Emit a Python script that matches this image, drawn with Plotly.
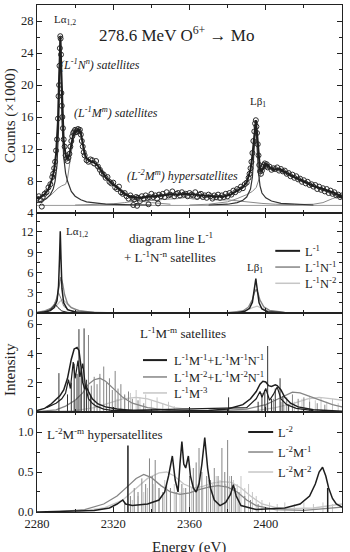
import plotly.graph_objects as go

# ---------------- Panel 1: measured spectrum ----------------
DATA_E = [2280, 2281, 2282, 2282.5, 2283, 2284, 2285, 2286, 2287, 2288, 2288.5, 2289, 2289.5, 2290, 2290.5,
          2291, 2291.3, 2291.6, 2291.8, 2292.0, 2292.2, 2292.4, 2292.6, 2292.8, 2293.0, 2293.3, 2293.6,
          2294, 2294.5, 2295, 2295.5, 2296, 2296.5, 2297, 2297.5, 2298, 2298.5, 2299, 2299.5, 2300, 2300.5,
          2301, 2301.5, 2302, 2302.5, 2303, 2303.5, 2304, 2304.5, 2305, 2306, 2307, 2308, 2309, 2310, 2311,
          2312, 2313, 2314, 2315, 2316, 2317, 2318, 2319, 2320, 2321, 2322, 2323, 2324, 2325, 2326, 2327,
          2328, 2329, 2330, 2330.5, 2331, 2332, 2332.5, 2333, 2334, 2335, 2336, 2337, 2338, 2338.5, 2339, 2340,
          2341, 2342, 2343, 2343.5, 2344, 2345, 2346, 2347, 2348, 2349, 2350, 2351, 2352, 2353, 2354, 2355,
          2356, 2357, 2358, 2359, 2360, 2361, 2362, 2363, 2364, 2365, 2366, 2367, 2368, 2369, 2370, 2371,
          2372, 2373, 2374, 2375, 2376, 2377, 2378, 2379, 2380, 2381, 2382, 2383, 2384, 2385, 2386, 2387,
          2388, 2389, 2390, 2391, 2391.5, 2392, 2392.5, 2393, 2393.5, 2394, 2394.4, 2394.8, 2395.1, 2395.4,
          2395.8, 2396.2, 2396.6, 2397, 2397.5, 2398, 2398.5, 2399, 2399.5, 2400, 2400.5, 2401, 2402, 2403,
          2404, 2405, 2406, 2407, 2408, 2409, 2410, 2411, 2412, 2413, 2414, 2415, 2416, 2417, 2418, 2419,
          2420, 2421, 2422, 2423, 2424, 2425, 2426, 2427, 2428, 2429, 2430, 2431, 2432, 2433, 2434, 2435,
          2436, 2437, 2438, 2439, 2440]
DATA_C = [5.8, 6.1, 5.6, 4.8, 6.0, 6.4, 6.6, 7.2, 7.6, 8.5, 8.9, 9.6, 10.4, 11.8, 13.2,
          15.8, 18.6, 20.0, 22.4, 24.6, 26.1, 25.8, 23.8, 19.0, 17.4, 16.0, 14.6,
          13.2, 12.3, 11.2, 10.8, 10.5, 10.9, 11.4, 12.3, 13.0, 13.6, 14.0, 14.2, 14.4, 14.1,
          14.3, 14.5, 14.2, 14.4, 13.8, 13.0, 12.3, 11.6, 11.2, 10.6, 10.4, 10.7, 10.6, 10.2, 10.5,
          9.8, 9.4, 9.0, 8.8, 8.4, 8.5, 7.9, 7.7, 7.8, 7.2, 7.0, 7.3, 6.6, 6.4, 6.5, 6.1,
          5.8, 6.2, 5.9, 5.0, 5.7, 6.0, 4.9, 5.9, 5.5, 6.1, 5.8, 6.2, 5.9, 5.1, 6.0, 6.4,
          6.0, 6.2, 5.8, 5.2, 6.3, 6.1, 6.4, 6.0, 6.6, 6.2, 6.3, 6.7, 6.1, 6.4, 6.5, 6.2,
          6.6, 6.3, 6.4, 6.1, 6.5, 6.3, 6.2, 6.6, 6.0, 6.3, 6.4, 6.0, 6.2, 5.9, 6.3, 6.1,
          5.8, 6.2, 6.0, 6.3, 5.9, 6.2, 6.0, 6.4, 6.1, 6.5, 6.3, 6.8, 6.6, 7.0, 6.9, 7.3,
          7.1, 7.6, 7.8, 8.4, 8.9, 9.6, 10.4, 11.5, 13.0, 14.2, 15.2, 15.6, 14.8, 14.0,
          12.6, 11.2, 10.0, 9.2, 8.9, 9.3, 9.8, 10.0, 10.2, 9.9, 10.1, 9.7, 9.8, 9.4,
          9.6, 9.5, 9.7, 9.3, 9.5, 9.2, 9.3, 8.9, 9.0, 8.6, 8.8, 8.4, 8.6, 8.2, 8.3, 7.9,
          8.1, 7.7, 7.9, 7.5, 7.6, 7.3, 7.5, 7.0, 7.3, 6.9, 7.1, 6.7, 7.0, 6.5, 6.8, 6.4,
          6.6, 6.2, 6.3, 6.0, 6.2]

FIT_E = [2280, 2282, 2284, 2286, 2288, 2289, 2290, 2291, 2291.6, 2292.3, 2292.8, 2293.3, 2294, 2295, 2296,
         2297, 2298, 2299, 2300, 2301, 2302, 2303, 2304, 2305, 2306, 2307, 2308, 2310, 2312, 2314, 2316,
         2318, 2320, 2322, 2324, 2326, 2328, 2330, 2334, 2338, 2342, 2346, 2350, 2354, 2358, 2362, 2366,
         2370, 2374, 2378, 2382, 2385, 2388, 2390, 2392, 2393, 2394, 2394.8, 2395.5, 2396.2, 2397, 2398,
         2399, 2400, 2401, 2402, 2404, 2406, 2408, 2410, 2412, 2414, 2416, 2418, 2420, 2422, 2424, 2426,
         2428, 2430, 2432, 2434, 2436, 2438, 2440]
FIT_C = [5.8, 6.0, 6.35, 7.0, 8.3, 9.4, 11.4, 15.5, 21.0, 26.1, 21.5, 16.5, 13.0, 11.3, 10.7,
         11.3, 12.7, 13.8, 14.2, 14.3, 14.4, 14.0, 12.6, 11.4, 10.8, 10.6, 10.5, 10.3, 9.9, 9.2, 8.5,
         8.0, 7.6, 7.1, 6.7, 6.4, 6.15, 6.0, 5.9, 6.0, 6.1, 6.2, 6.3, 6.3, 6.4, 6.3, 6.2,
         6.15, 6.05, 6.05, 6.35, 6.8, 7.25, 7.8, 9.4, 11.2, 14.0, 15.6, 13.8, 11.2, 9.4, 9.3,
         9.8, 10.1, 10.0, 9.7, 9.45, 9.5, 9.4, 9.1, 8.85, 8.6, 8.4, 8.15, 7.9, 7.7, 7.5, 7.3,
         7.1, 7.0, 6.85, 6.7, 6.5, 6.25, 6.05]

LA_E = [2280, 2283, 2285, 2287, 2288.5, 2289.5, 2290.5, 2291.3, 2291.8, 2292.2, 2292.6, 2293.1, 2294, 2295,
        2296, 2297, 2298, 2300, 2303, 2306, 2310, 2316, 2325, 2340]
LA_C = [5.3, 5.5, 5.8, 6.3, 7.0, 8.0, 10.0, 14.5, 21.0, 26.0, 22.0, 15.5, 11.0, 9.0,
        8.0, 7.2, 6.7, 6.1, 5.65, 5.4, 5.25, 5.12, 5.05, 5.0]
LB_E = [2370, 2380, 2385, 2388, 2390, 2392, 2393, 2394, 2394.8, 2395.5, 2396.2, 2397, 2398, 2400, 2403,
        2408, 2415, 2425]
LB_C = [5.0, 5.1, 5.3, 5.6, 6.0, 7.0, 8.5, 12.0, 15.5, 12.0, 9.0, 7.4, 6.5, 5.9, 5.5, 5.2, 5.1, 5.0]

SATA_E = [2280, 2284, 2288, 2291, 2293, 2295, 2296, 2297, 2298, 2299, 2300, 2301, 2302, 2303, 2304, 2305,
          2306, 2308, 2310, 2312, 2314, 2316, 2318, 2320, 2322, 2324, 2326, 2328, 2330, 2334, 2340, 2350]
SATA_C = [5.3, 5.7, 6.4, 7.1, 7.4, 7.6, 8.3, 10.0, 12.0, 13.2, 13.7, 13.9, 14.0, 13.8, 12.3, 11.0,
          10.4, 10.1, 9.9, 9.6, 9.0, 8.4, 7.9, 7.5, 7.0, 6.6, 6.3, 6.0, 5.8, 5.5, 5.3, 5.1]
SATB_E = [2360, 2370, 2380, 2385, 2390, 2393, 2395, 2396, 2397, 2398, 2399, 2400, 2402, 2404, 2406, 2408,
          2410, 2415, 2420, 2425, 2430, 2435, 2440]
SATB_C = [5.0, 5.1, 5.4, 5.8, 6.3, 6.7, 7.2, 7.8, 8.6, 9.3, 9.8, 9.9, 9.5, 9.2, 9.3, 9.2,
          8.9, 8.4, 7.9, 7.4, 6.9, 6.3, 5.8]
HYP_E = [2300, 2310, 2320, 2326, 2330, 2334, 2338, 2342, 2346, 2350, 2354, 2358, 2362, 2366, 2369, 2372,
         2376, 2380, 2384, 2388, 2392, 2398, 2405, 2415, 2425, 2430, 2435, 2440]
HYP_C = [5.0, 5.05, 5.15, 5.3, 5.45, 5.5, 5.6, 5.55, 5.7, 5.75, 5.8, 5.95, 5.75, 5.85, 6.0, 5.7,
         5.6, 5.65, 5.55, 5.4, 5.3, 5.2, 5.1, 5.05, 5.1, 5.3, 5.8, 6.2]
BG_E = [2280, 2440]
BG_C = [4.95, 4.95]

# ---------------- Panel 2: diagram line + L-1N-n ----------------
L1_E = [2280, 2284, 2287, 2289, 2290.5, 2291.3, 2291.8, 2292.2, 2292.6, 2293.1, 2294, 2296, 2300, 2310, 2330,
        2370, 2385, 2389, 2391.5, 2393, 2394, 2394.5, 2394.8, 2395.1, 2395.6, 2396.5, 2398, 2401, 2410, 2440]
L1_I = [0.05, 0.15, 0.35, 0.8, 1.8, 4.0, 8.0, 12.1, 8.0, 3.6, 1.5, 0.5, 0.15, 0.04, 0.0,
        0.0, 0.05, 0.25, 0.7, 1.6, 3.2, 4.4, 5.1, 4.4, 3.0, 1.5, 0.6, 0.2, 0.05, 0.0]
L1B_E = [2282, 2286, 2288, 2289.5, 2291, 2293, 2296, 2300]
L1B_I = [0.05, 0.3, 0.8, 1.3, 0.8, 0.3, 0.1, 0.02]
N1_E = [2280, 2284, 2287, 2289, 2290.5, 2291.5, 2292.5, 2293.5, 2294.5, 2296, 2298, 2302, 2310, 2330,
        2380, 2388, 2391, 2393, 2394, 2395, 2396, 2397, 2399, 2402, 2410, 2440]
N1_I = [0.1, 0.3, 0.65, 1.2, 2.3, 3.9, 5.3, 4.3, 2.7, 1.4, 0.8, 0.35, 0.1, 0.02,
        0.05, 0.3, 0.9, 2.0, 3.0, 3.5, 2.9, 1.9, 0.9, 0.4, 0.1, 0.02]
N1B_E = [2284, 2288, 2290, 2291.3, 2292.5, 2294, 2297, 2302]
N1B_I = [0.2, 0.8, 1.8, 3.0, 2.2, 1.0, 0.4, 0.1]
N2_E = [2280, 2285, 2288, 2290, 2292, 2293.5, 2295, 2297, 2300, 2305, 2320, 2385, 2390, 2393, 2395.5,
        2398, 2401, 2408, 2440]
N2_I = [0.1, 0.3, 0.6, 1.0, 1.7, 2.0, 1.6, 1.0, 0.5, 0.2, 0.03, 0.1, 0.4, 0.8, 1.0,
        0.7, 0.35, 0.1, 0.0]

# ---------------- Panel 3: L-1M-m satellites ----------------
M1_E = [2280, 2284, 2287, 2290, 2292, 2294, 2296, 2298, 2299.5, 2301, 2302, 2303, 2304, 2305, 2306, 2307,
        2309, 2312, 2316, 2322, 2330, 2345, 2360, 2370, 2380, 2388, 2392, 2395, 2397, 2398.5, 2400,
        2401.5, 2403, 2405, 2406, 2408, 2410, 2413, 2417, 2425, 2440]
M1_I = [0.1, 0.25, 0.5, 0.85, 1.1, 1.5, 2.3, 3.6, 4.3, 4.4, 4.2, 3.2, 2.0, 1.6, 1.7, 1.4,
        0.9, 0.55, 0.35, 0.2, 0.1, 0.05, 0.05, 0.1, 0.2, 0.5, 0.9, 1.4, 1.9, 2.1, 2.05,
        1.8, 1.75, 1.85, 1.8, 1.5, 1.0, 0.6, 0.35, 0.15, 0.05]
M1D_E = [2285, 2290, 2293, 2295, 2296.5, 2297.5, 2299, 2300, 2301.5, 2302.5, 2304, 2305.5, 2307, 2309,
         2311, 2315, 2320, 2390, 2395, 2397, 2398, 2400, 2402, 2404, 2406, 2408, 2411, 2416, 2425]
M1D_I = [0.3, 0.6, 0.9, 1.3, 2.2, 1.6, 3.4, 2.3, 3.5, 2.4, 3.3, 1.7, 0.9, 0.6,
         0.4, 0.2, 0.1, 0.3, 0.9, 1.4, 1.0, 1.6, 0.8, 1.2, 1.7, 0.9, 0.5, 0.25, 0.1]
M2_E = [2280, 2290, 2295, 2300, 2304, 2307, 2310, 2313, 2316, 2320, 2325, 2330, 2338, 2350, 2370, 2390,
        2400, 2405, 2410, 2414, 2418, 2422, 2428, 2435, 2440]
M2_I = [0.03, 0.15, 0.4, 0.8, 1.3, 1.9, 2.2, 2.3, 2.1, 1.6, 1.0, 0.6, 0.3, 0.1, 0.05, 0.2,
        0.5, 0.8, 1.1, 1.35, 1.3, 1.1, 0.8, 0.5, 0.35]
M3_E = [2280, 2300, 2310, 2318, 2325, 2332, 2338, 2345, 2352, 2365, 2395, 2405, 2415, 2422, 2428, 2435, 2440]
M3_I = [0.0, 0.1, 0.3, 0.6, 0.9, 1.0, 0.9, 0.6, 0.3, 0.1, 0.1, 0.3, 0.6, 0.9, 1.0, 0.9, 0.8]
S31_E = [2291.5, 2296, 2298, 2299.5, 2301, 2302, 2303.2, 2304.7, 2306, 2308, 2380.5, 2396, 2398, 2399.5,
         2401, 2403, 2405, 2407.5, 2409, 2412]
S31_H = [2.65, 1.2, 2.0, 3.3, 2.6, 5.65, 3.0, 5.7, 2.2, 1.1, 1.0, 0.7, 1.3, 1.5,
         4.5, 0.9, 1.6, 2.3, 1.1, 0.5]
S32_E = [2300, 2303, 2305, 2307, 2308.5, 2310, 2311.5, 2313, 2315, 2316.5, 2318, 2319.5, 2321, 2322.5,
         2324, 2326, 2328, 2330, 2333, 2336, 2400, 2404, 2408, 2411, 2414, 2417, 2420, 2423, 2427, 2431]
S32_H = [0.8, 1.2, 1.5, 5.25, 1.8, 2.4, 1.9, 2.6, 3.1, 2.0, 2.3, 1.5, 2.8, 1.6,
         1.9, 1.2, 1.4, 0.9, 0.8, 0.6, 0.5, 0.9, 0.7, 1.0, 1.2, 0.9, 1.0, 0.7, 0.6, 0.5]
S33_E = [2318, 2322, 2326, 2329, 2332, 2334, 2337, 2340, 2343, 2346, 2349, 2352, 2405, 2410, 2415, 2419,
         2423, 2426, 2429, 2432, 2435, 2438]
S33_H = [0.7, 0.9, 1.1, 1.3, 1.5, 1.0, 1.2, 0.8, 1.0, 0.6, 0.7, 0.4, 0.3, 0.5, 0.7, 0.9,
         1.1, 0.8, 1.0, 0.7, 0.9, 0.6]

# ---------------- Panel 4: L-2M-m hypersatellites ----------------
K0_E = [2280, 2310, 2318, 2322, 2325, 2326.5, 2330, 2338, 2344, 2347, 2349, 2351, 2352.5, 2354, 2355, 2356,
        2357, 2358, 2359.4, 2360.5, 2362, 2363.5, 2365, 2366.5, 2368, 2369.5, 2371, 2373, 2376, 2379,
        2381.5, 2383, 2384.5, 2387, 2395, 2410, 2418, 2423, 2426, 2428, 2429.8, 2431.5, 2433, 2435, 2437, 2440]
K0_I = [0.0, 0.02, 0.05, 0.1, 0.15, 0.1, 0.08, 0.1, 0.15, 0.25, 0.45, 0.7, 0.4, 0.25, 0.6, 0.88,
        0.6, 0.55, 0.7, 0.45, 0.3, 0.25, 0.35, 0.6, 0.93, 0.55, 0.3, 0.15, 0.08, 0.12,
        0.22, 0.34, 0.2, 0.08, 0.03, 0.05, 0.1, 0.2, 0.35, 0.5, 0.56, 0.45, 0.3, 0.17, 0.1, 0.06]
K1_E = [2290, 2305, 2315, 2322, 2328, 2332, 2336, 2340, 2345, 2350, 2355, 2360, 2365, 2370, 2375, 2380,
        2385, 2390, 2395, 2405, 2420, 2440]
K1_I = [0.0, 0.03, 0.1, 0.2, 0.33, 0.42, 0.47, 0.43, 0.33, 0.25, 0.22, 0.24, 0.28, 0.31, 0.33, 0.31,
        0.25, 0.15, 0.08, 0.03, 0.02, 0.06]
K2_E = [2300, 2315, 2325, 2332, 2338, 2344, 2348, 2352, 2357, 2362, 2367, 2372, 2377, 2382, 2387, 2392,
        2398, 2408, 2425, 2440]
K2_I = [0.0, 0.05, 0.15, 0.3, 0.42, 0.49, 0.5, 0.45, 0.35, 0.3, 0.32, 0.36, 0.38, 0.37, 0.3, 0.2,
        0.1, 0.04, 0.05, 0.1]
S40_E = [2327.7, 2432.5]
S40_H = [0.83, 0.3]
S41_E = [2326, 2329, 2331, 2333, 2335, 2337, 2339, 2340.5, 2342, 2344, 2346, 2348, 2350, 2353, 2356,
         2358, 2360, 2362, 2363.5, 2365, 2366.5, 2369, 2371, 2373, 2375, 2377, 2378.5, 2380, 2382,
         2384, 2386, 2389, 2392, 2396]
S41_H = [0.12, 0.2, 0.3, 0.25, 0.42, 0.35, 0.67, 0.45, 0.65, 0.3, 0.25, 0.35, 0.3, 0.25, 0.35,
         0.3, 0.45, 0.55, 0.62, 0.8, 0.5, 0.45, 0.4, 0.55, 0.45, 0.8, 0.5, 0.9, 0.45,
         0.3, 0.25, 0.2, 0.15, 0.1]
S42_E = [2330, 2333, 2336, 2338, 2341, 2344, 2347, 2350, 2352, 2355, 2357, 2361, 2364, 2367, 2370, 2372,
         2374, 2376, 2379, 2381, 2383, 2385, 2387, 2389, 2391, 2393, 2395, 2398, 2402, 2406, 2410, 2415,
         2420, 2425, 2430, 2435]
S42_H = [0.15, 0.2, 0.25, 0.3, 0.35, 0.3, 0.4, 0.3, 0.35, 0.25, 0.3, 0.3, 0.35, 0.3, 0.4, 0.35,
         0.45, 0.4, 0.35, 0.45, 0.4, 0.35, 0.45, 0.3, 0.35, 0.25, 0.2, 0.15, 0.12, 0.1, 0.12, 0.1,
         0.12, 0.1, 0.12, 0.1]

BLACK = "#1e1e1e"
GRAY = "#858585"
LIGHT = "#c6c6c6"
FONT = "Liberation Serif"


def sticks(es, hs):
    xs, ys = [], []
    for e, h in zip(es, hs):
        xs += [e, e, None]
        ys += [0, h, None]
    return xs, ys


fig = go.Figure()


def line(x, y, ax, color, width):
    fig.add_trace(go.Scatter(x=x, y=y, mode="lines", xaxis=ax[0], yaxis=ax[1],
                             line=dict(color=color, width=width), showlegend=False,
                             hoverinfo="skip"))


def stk(es, hs, ax, color, width=1):
    xs, ys = sticks(es, hs)
    line(xs, ys, ax, color, width)


A1, A2, A3, A4 = ("x", "y"), ("x2", "y2"), ("x3", "y3"), ("x4", "y4")

# panel 1
line(BG_E, BG_C, A1, "#9a9a9a", 1)
line(HYP_E, HYP_C, A1, "#8a8a8a", 1)
line(SATA_E, SATA_C, A1, "#8a8a8a", 1)
line(SATB_E, SATB_C, A1, "#8a8a8a", 1)
line(LA_E, LA_C, A1, "#333333", 1.2)
line(LB_E, LB_C, A1, "#333333", 1.2)
fig.add_trace(go.Scatter(x=DATA_E, y=DATA_C, mode="markers", xaxis="x", yaxis="y",
                         marker=dict(symbol="circle-open", size=5, color="#2a2a2a",
                                     line=dict(width=1)),
                         showlegend=False, hoverinfo="skip"))
line(FIT_E, FIT_C, A1, BLACK, 2)

# panel 2
line(N2_E, N2_I, A2, LIGHT, 1.3)
line(N1B_E, N1B_I, A2, GRAY, 1)
line(N1_E, N1_I, A2, GRAY, 1.3)
line(L1B_E, L1B_I, A2, BLACK, 1)
line(L1_E, L1_I, A2, BLACK, 1.5)

# panel 3
stk(S33_E, S33_H, A3, LIGHT)
line(M3_E, M3_I, A3, LIGHT, 1.3)
stk(S32_E, S32_H, A3, GRAY)
line(M2_E, M2_I, A3, GRAY, 1.3)
stk(S31_E, S31_H, A3, "#333333")
line(M1D_E, M1D_I, A3, BLACK, 1.2)
line(M1_E, M1_I, A3, BLACK, 1.5)

# panel 4
stk(S42_E, S42_H, A4, LIGHT)
line(K2_E, K2_I, A4, LIGHT, 1.3)
stk(S41_E, S41_H, A4, GRAY)
line(K1_E, K1_I, A4, GRAY, 1.3)
stk(S40_E, S40_H, A4, BLACK, 1.5)
line(K0_E, K0_I, A4, BLACK, 1.5)

# ---------- axes ----------
doms = {1: [0.5897, 1.0], 2: [0.3925, 0.5897], 3: [0.1972, 0.3925], 4: [0.0, 0.1972]}
yr = {1: [4, 30], 2: [0, 14.8], 3: [0, 6.75], 4: [0, 1.25]}
ydt = {1: 4, 2: 3, 3: 2, 4: 0.5}
y0 = {1: 4, 2: 0, 3: 0, 4: 0}
tickfont = dict(family=FONT, size=12.5, color="#222")
axcommon = dict(showline=True, linecolor="#222", linewidth=1, mirror="ticks", ticks="inside",
                ticklen=5, tickcolor="#222", showgrid=False, zeroline=False, tickfont=tickfont)
lay = {}
for i in range(1, 5):
    xs = "xaxis" if i == 1 else f"xaxis{i}"
    ys = "yaxis" if i == 1 else f"yaxis{i}"
    yid = "y" if i == 1 else f"y{i}"
    lay[xs] = dict(axcommon, anchor=yid, domain=[0, 1], range=[2280, 2440], dtick=40, tick0=2280,
                   showticklabels=(i == 4), minor=dict(dtick=20, ticklen=3, ticks="inside",
                                                        tickcolor="#222"))
    if i > 1:
        lay[xs]["matches"] = "x"
    lay[ys] = dict(axcommon, anchor="x" if i == 1 else f"x{i}", domain=doms[i], range=yr[i],
                   dtick=ydt[i], tick0=y0[i],
                   minor=dict(dtick=ydt[i] / 2, ticklen=3, ticks="inside", tickcolor="#222"))
lay["yaxis4"]["tickformat"] = ".1f"

fig.update_layout(**lay)

anns = []


def ann(text, x, y, ax, size=12, xanchor="left", italic=False, **kw):
    if italic:
        text = f"<i>{text}</i>"
    anns.append(dict(text=text, x=x, y=y, xref=ax[0], yref=ax[1], xanchor=xanchor, yanchor="middle",
                     showarrow=False, font=dict(family=FONT, size=size, color="#222"), **kw))


# panel 1 texts
ann("Lα<sub>1,2</sub>", 2287.9, 28.1, A1, size=11)
ann("278.6 MeV O<sup>6+</sup> → Mo", 2353, 26.4, A1, size=17, xanchor="center")
ann("(L<sup>-1</sup>N<sup>n</sup>) satellites", 2291, 22.6, A1, size=12, italic=True)
ann("(L<sup>-1</sup>M<sup>m</sup>) satellites", 2298.4, 16.6, A1, size=12, italic=True)
ann("(L<sup>-2</sup>M<sup>m</sup>) hypersatellites", 2326.2, 8.75, A1, size=12, italic=True)
ann("Lβ<sub>1</sub>", 2390.8, 17.9, A1, size=11)
# panel 2 texts
ann("Lα<sub>1,2</sub>", 2294.2, 12.0, A2, size=11)
ann("diagram line L<sup>-1</sup>", 2350.3, 11.1, A2, size=13, xanchor="center")
ann("+ L<sup>-1</sup>N<sup>-n</sup> satellites", 2349.8, 8.3, A2, size=13, xanchor="center")
ann("Lβ<sub>1</sub>", 2389.2, 6.7, A2, size=11)
# panel 3 texts
ann("L<sup>-1</sup>M<sup>-m</sup> satellites", 2356.6, 5.39, A3, size=13, xanchor="center")
# panel 4 texts
ann("L<sup>-2</sup>M<sup>-m</sup> hypersatellites", 2284.2, 0.975, A4, size=13)

# legends (drawn as sample lines + labels)
LEG2 = [("L<sup>-1</sup>", BLACK, 2, 9.2), ("L<sup>-1</sup>N<sup>-1</sup>", GRAY, 1.5, 6.8),
        ("L<sup>-1</sup>N<sup>-2</sup>", LIGHT, 1.5, 4.4)]
LEG3 = [("L<sup>-1</sup>M<sup>-1</sup>+L<sup>-1</sup>M<sup>-1</sup>N<sup>-1</sup>", BLACK, 2, 3.54),
        ("L<sup>-1</sup>M<sup>-2</sup>+L<sup>-1</sup>M<sup>-2</sup>N<sup>-1</sup>", GRAY, 1.5, 2.39),
        ("L<sup>-1</sup>M<sup>-3</sup>", LIGHT, 1.5, 1.3)]
LEG4 = [("L<sup>-2</sup>", BLACK, 2, 1.0), ("L<sup>-2</sup>M<sup>-1</sup>", GRAY, 1.5, 0.75),
        ("L<sup>-2</sup>M<sup>-2</sup>", LIGHT, 1.5, 0.5)]
shapes = []
for leg, ax, xa, xb, xt in [(LEG2, A2, 2405, 2418, 2419.6), (LEG3, A3, 2335.6, 2348.2, 2350.9),
                            (LEG4, A4, 2390.8, 2403.9, 2405.5)]:
    for txt, col, w, yy in leg:
        shapes.append(dict(type="line", xref=ax[0], yref=ax[1], x0=xa, x1=xb, y0=yy, y1=yy,
                           line=dict(color=col, width=w)))
        ann(txt, xt, yy, ax, size=12.5)

# axis titles
anns.append(dict(text="Counts (×1000)", x=-0.0885, y=0.781, xref="paper", yref="paper",
                 textangle=-90, showarrow=False, xanchor="center", yanchor="middle",
                 font=dict(family=FONT, size=15, color="#222")))
anns.append(dict(text="Intensity", x=-0.0885, y=0.280, xref="paper", yref="paper",
                 textangle=-90, showarrow=False, xanchor="center", yanchor="middle",
                 font=dict(family=FONT, size=15, color="#222")))
anns.append(dict(text="Energy (eV)", x=0.498, y=-0.071, xref="paper", yref="paper",
                 showarrow=False, xanchor="center", yanchor="middle",
                 font=dict(family=FONT, size=15, color="#222")))

fig.update_layout(width=350, height=552, margin=dict(l=37, r=8, t=5, b=40),
                  paper_bgcolor="white", plot_bgcolor="white", annotations=anns, shapes=shapes,
                  showlegend=False)

fig.write_html("out.html")
